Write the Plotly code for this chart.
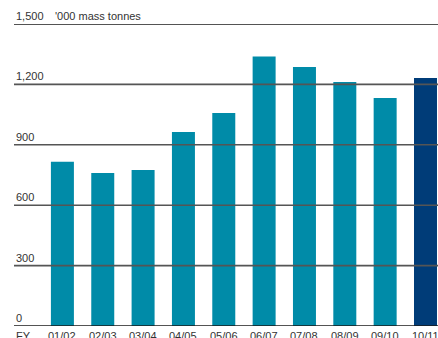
import plotly.graph_objects as go

years = ["01/02", "02/03", "03/04", "04/05", "05/06", "06/07", "07/08", "08/09", "09/10", "10/11"]
volumes = [816, 760, 775, 964, 1058, 1338, 1287, 1212, 1133, 1232]
bar_colors = ["#008ba8"] * 9 + ["#003c78"]
y_ticks = [0, 300, 600, 900, 1200, 1500]
y_tick_labels = ["0", "300", "600", "900", "1,200", "1,500"]
unit_label = "'000 mass tonnes"
axis_prefix = "FY"

FONT = "Liberation Sans, Arial, sans-serif"
TXT = "#333333"

idx = list(range(len(years)))

fig = go.Figure(go.Bar(
    x=idx, y=volumes, marker=dict(color=bar_colors, line=dict(width=0)),
    width=0.57, hoverinfo="skip",
))

shapes = []
for v in y_ticks:
    shapes.append(dict(type="line", xref="paper", yref="y", x0=0, x1=1, y0=v, y1=v,
                       line=dict(color="#1a1a1a" if v in (0, 1500) else "#555555", width=1.6),
                       layer="above"))

annotations = []
for v, t in zip(y_ticks, y_tick_labels):
    annotations.append(dict(text=t, xref="paper", yref="y", x=0, y=v, xanchor="left",
                            yanchor="bottom", yshift=0, showarrow=False,
                            font=dict(family=FONT, size=11, color=TXT)))
annotations.append(dict(text=unit_label, xref="paper", yref="y", x=0.092, y=y_ticks[-1],
                        xanchor="left", yanchor="bottom", yshift=0, showarrow=False,
                        font=dict(family=FONT, size=11, color=TXT)))
annotations.append(dict(text=axis_prefix, xref="paper", yref="paper", x=0, y=0,
                        xanchor="left", yanchor="top", yshift=-2, showarrow=False,
                        font=dict(family=FONT, size=11, color=TXT)))
for i, yr in zip(idx, years):
    annotations.append(dict(text=yr, xref="x", yref="paper", x=i, y=0,
                            xanchor="center", yanchor="top", yshift=-2, showarrow=False,
                            font=dict(family=FONT, size=11, color=TXT)))

fig.update_layout(
    width=438, height=338,
    margin=dict(l=14, r=0, t=24, b=12),
    paper_bgcolor="white", plot_bgcolor="white",
    showlegend=False,
    shapes=shapes, annotations=annotations,
    xaxis=dict(range=[-1.2, 9.31], showgrid=False, showticklabels=False,
               zeroline=False, showline=False, ticks="", automargin=False, fixedrange=True),
    yaxis=dict(range=[0, 1500], showgrid=False, zeroline=False, showticklabels=False,
               showline=False, automargin=False, fixedrange=True),
)

fig.write_html("out.html", config={"displayModeBar": False})
